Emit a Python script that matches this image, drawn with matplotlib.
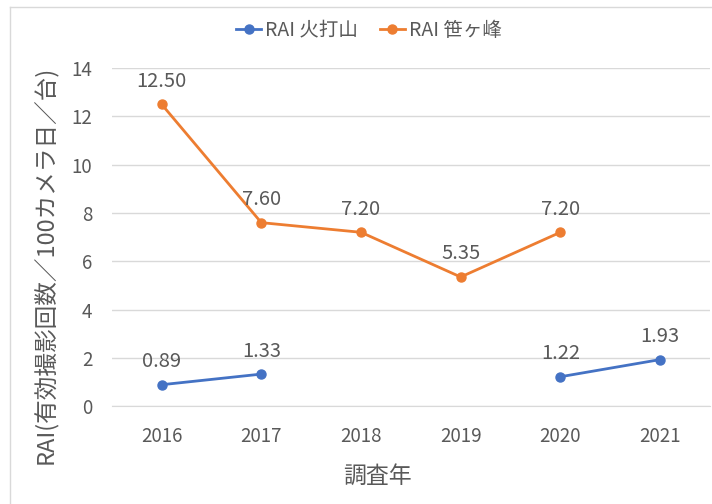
import numpy as np
import matplotlib.pyplot as plt
from matplotlib.lines import Line2D

plt.rcParams['font.family'] = ['Noto Sans CJK JP', 'DejaVu Sans']

years = ['2016', '2017', '2018', '2019', '2020', '2021']
hiuchi = [0.89, 1.33, np.nan, np.nan, 1.22, 1.93]
sasagamine = [12.50, 7.60, 7.20, 5.35, 7.20, np.nan]
yticks = [0, 2, 4, 6, 8, 10, 12, 14]

blue = '#4472C4'
orange = '#ED7D31'
txt = '#595959'

fig = plt.figure(figsize=(7.12, 5.04), dpi=100)
ax = fig.add_axes([0.157, 0.194, 0.84, 0.671])

x = np.arange(len(years))
ax.plot(x, hiuchi, color=blue, lw=2, marker='o', ms=6.5, label='RAI 火打山')
ax.plot(x, sasagamine, color=orange, lw=2, marker='o', ms=6.5, label='RAI 笹ヶ峰')

# データラベル
for xi, v in zip(x, hiuchi):
    if not np.isnan(v):
        ax.annotate(f'{v:.2f}', (xi, v), xytext=(0, 9), textcoords='offset points',
                    ha='center', va='bottom', fontsize=14.5, color=txt)
for xi, v in zip(x, sasagamine):
    if not np.isnan(v):
        ax.annotate(f'{v:.2f}', (xi, v), xytext=(0, 9), textcoords='offset points',
                    ha='center', va='bottom', fontsize=14.5, color=txt)

ax.set_xlim(-0.5, len(years) - 0.5)
ax.set_ylim(0, 14)
ax.set_xticks(x)
ax.set_xticklabels(years)
ax.set_yticks(yticks)
ax.tick_params(axis='both', length=0, labelsize=13.5, labelcolor=txt)
ax.tick_params(axis='x', pad=14)
ax.tick_params(axis='y', pad=14)
ax.grid(axis='y', color='#D9D9D9', lw=1)
ax.set_axisbelow(True)
for s in ['top', 'right', 'left']:
    ax.spines[s].set_visible(False)
ax.spines['bottom'].set_color('#D9D9D9')

ax.set_xlabel('調査年', fontsize=16.5, color=txt)
ax.xaxis.set_label_coords(0.445, -0.172)
ax.set_ylabel('RAI(有効撮影回数／100カメラ日／台)', fontsize=17, color=txt)
ax.yaxis.set_label_coords(-0.09, 0.417)

handles = [Line2D([], [], color=blue, lw=2, marker='o', ms=6.5),
           Line2D([], [], color=orange, lw=2, marker='o', ms=6.5)]
leg = fig.legend(handles, ['RAI 火打山', 'RAI 笹ヶ峰'], loc='center', bbox_to_anchor=(0.518, 0.94),
                 ncol=2, frameon=False, fontsize=14, handlelength=1.3, columnspacing=1.1,
                 handletextpad=0.2)
for t in leg.get_texts():
    t.set_color(txt)

# 外枠
fig.add_artist(Line2D([0.014, 0.014], [0, 0.986], color='#D9D9D9', lw=1, transform=fig.transFigure))
fig.add_artist(Line2D([0.014, 1], [0.986, 0.986], color='#D9D9D9', lw=1, transform=fig.transFigure))

fig.savefig('out.png', dpi=100)
